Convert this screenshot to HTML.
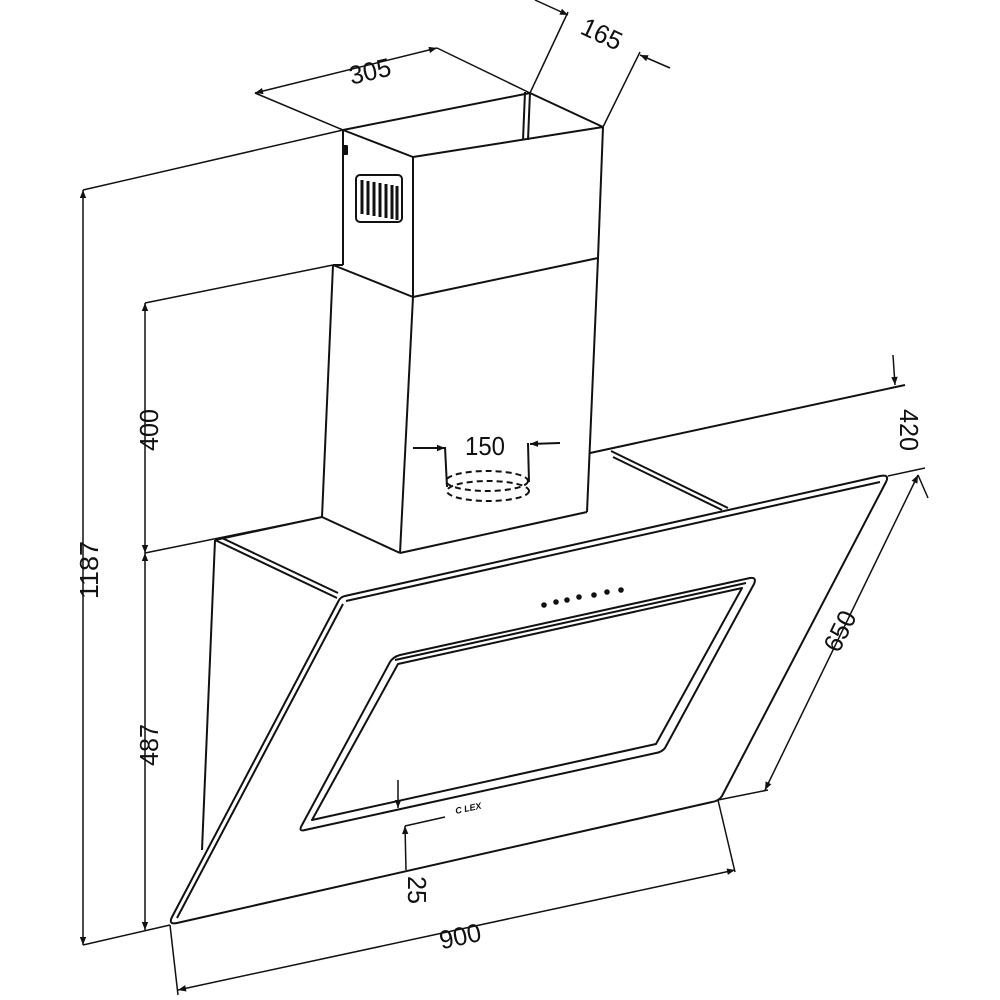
<!DOCTYPE html>
<html><head><meta charset="utf-8"><style>
html,body{margin:0;padding:0;background:#fff}
svg{display:block}
text{font-family:"Liberation Sans",sans-serif;font-size:26px;fill:#111}
</style></head><body>
<svg width="1000" height="1000" viewBox="0 0 1000 1000" xmlns="http://www.w3.org/2000/svg">
<defs>
<marker id="a" viewBox="0 0 10 10" refX="10" refY="5" markerWidth="12" markerHeight="8" orient="auto-start-reverse" markerUnits="userSpaceOnUse"><path d="M0,1 L10,5 L0,9 Z" fill="#111"/></marker>
</defs>
<g stroke="#111" stroke-width="2" fill="none" stroke-linejoin="round">
<!-- chimney upper -->
<polyline points="343,130 413,157 603,127"/>
<polyline points="343,130 530,93"/>
<line x1="530" y1="93" x2="603" y2="127"/>
<line x1="343" y1="130" x2="343" y2="265"/>
<line x1="413" y1="157" x2="413" y2="297"/>
<line x1="603" y1="127" x2="598" y2="258"/>
<line x1="525" y1="92" x2="523" y2="140"/>
<line x1="530" y1="92" x2="528" y2="140"/>
<polyline points="333,265 413,297 598,258"/>
<line x1="333" y1="265" x2="343" y2="265"/>
<!-- vent -->
<rect x="356" y="175" width="46" height="47" rx="4"/>
<g stroke-width="3">
<line x1="362" y1="180" x2="362" y2="214"/><line x1="368" y1="181" x2="368" y2="215"/><line x1="374" y1="182" x2="374" y2="216"/><line x1="380" y1="183" x2="380" y2="217"/><line x1="386" y1="184" x2="386" y2="218"/><line x1="392" y1="185" x2="392" y2="219"/><line x1="397" y1="186" x2="397" y2="220"/>
</g>
<rect x="344" y="146" width="3" height="8" fill="#111"/>
<!-- chimney lower -->
<line x1="333" y1="265" x2="322" y2="517"/>
<line x1="413" y1="297" x2="400" y2="553"/>
<line x1="598" y1="258" x2="587" y2="512"/>
<line x1="400" y1="553" x2="587" y2="512"/>
<!-- hood top -->
<polyline points="215,540 322,517"/>
<line x1="322" y1="517" x2="400" y2="553"/>
<line x1="590" y1="453" x2="905" y2="385"/>
<line x1="215" y1="540" x2="337" y2="598"/>
<line x1="222" y1="538" x2="338" y2="593"/>
<line x1="611" y1="451" x2="728" y2="508"/>
<line x1="613" y1="457" x2="722" y2="510"/>
<!-- side -->
<line x1="215" y1="540" x2="202" y2="850"/>
<!-- glass -->
<path d="M345,596 L880,476 Q890,474 886,482 L722,796 Q719,801 712,802 L177,923 Q168,925 172,917 L338,602 Q340,597 345,596 Z"/>
<path d="M346,601 L880,482 M343,604 L177,918"/>
<!-- window -->
<path d="M400,655 L750,578 Q757,577 754,584 L665,748 Q662,752 656,753 L305,830 Q298,832 302,825 L390,662 Q393,657 400,655 Z"/>
<path d="M398,664 L742,588 L656,744 L312,820 Z"/>
<path d="M395,660 L746,583"/>
<!-- buttons -->
<g fill="#111" stroke="none">
<circle cx="544" cy="605" r="2.8"/><circle cx="556" cy="602" r="2.8"/><circle cx="567" cy="600" r="2.8"/><circle cx="579" cy="597" r="2.8"/><circle cx="594" cy="595" r="2.8"/><circle cx="607" cy="592" r="2.8"/><circle cx="621" cy="590" r="2.8"/>
</g>
<text x="456" y="814" style="font-size:9px;font-weight:bold;font-style:italic" stroke="none" transform="rotate(-12 456 814)">C LEX</text>
<!-- duct -->
<ellipse cx="487" cy="481" rx="41" ry="10" stroke-dasharray="6,4"/>
<ellipse cx="488" cy="491" rx="41" ry="10" stroke-dasharray="6,4"/>
<line x1="445" y1="447" x2="447" y2="487"/>
<line x1="528" y1="443" x2="529" y2="482"/>
<line x1="413" y1="448" x2="445" y2="448" marker-end="url(#a)"/>
<line x1="560" y1="443" x2="530" y2="444" marker-end="url(#a)"/>
<!-- dims -->
<g stroke-width="1.5">
<line x1="83" y1="190" x2="343" y2="130"/>
<line x1="83" y1="945" x2="170" y2="925"/>
<line x1="83" y1="190" x2="83" y2="945" marker-start="url(#a)" marker-end="url(#a)"/>
<line x1="145" y1="303" x2="333" y2="265"/>
<line x1="145" y1="553" x2="322" y2="517"/>
<line x1="145" y1="303" x2="145" y2="553" marker-start="url(#a)" marker-end="url(#a)"/>
<line x1="145" y1="553" x2="145" y2="930" marker-start="url(#a)" marker-end="url(#a)"/>
<line x1="255" y1="93" x2="343" y2="130"/>
<line x1="437" y1="48" x2="530" y2="93"/>
<line x1="255" y1="93" x2="437" y2="48" marker-start="url(#a)" marker-end="url(#a)"/>
<line x1="530" y1="93" x2="568" y2="12"/>
<line x1="603" y1="127" x2="640" y2="52"/>
<line x1="535" y1="0" x2="568" y2="15" marker-end="url(#a)"/>
<line x1="670" y1="68" x2="640" y2="55" marker-end="url(#a)"/>
<line x1="893" y1="355" x2="895" y2="385" marker-end="url(#a)"/>
<line x1="888" y1="476" x2="925" y2="468"/>
<line x1="718" y1="800" x2="768" y2="790"/>
<line x1="918" y1="475" x2="765" y2="790" marker-start="url(#a)" marker-end="url(#a)"/>
<line x1="928" y1="498" x2="918" y2="475"/>
<line x1="170" y1="925" x2="178" y2="995"/>
<line x1="718" y1="800" x2="735" y2="872"/>
<line x1="178" y1="990" x2="735" y2="870" marker-start="url(#a)" marker-end="url(#a)"/>
<line x1="398" y1="780" x2="398" y2="808" marker-end="url(#a)"/>
<line x1="406" y1="870" x2="405" y2="826" marker-end="url(#a)"/>
<line x1="405" y1="826" x2="445" y2="817"/>
</g>
</g>
<g stroke="none">
<text x="98" y="570" transform="rotate(-90 98 570)" text-anchor="middle" textLength="58" lengthAdjust="spacingAndGlyphs">1187</text>
<text x="158" y="430" transform="rotate(-90 158 430)" text-anchor="middle" textLength="42" lengthAdjust="spacingAndGlyphs">400</text>
<text x="158" y="745" transform="rotate(-90 158 745)" text-anchor="middle" textLength="42" lengthAdjust="spacingAndGlyphs">487</text>
<text x="372" y="80" transform="rotate(-13 372 80)" text-anchor="middle" textLength="42" lengthAdjust="spacingAndGlyphs">305</text>
<text x="598" y="42" transform="rotate(25 598 42)" text-anchor="middle" textLength="42" lengthAdjust="spacingAndGlyphs">165</text>
<text x="485" y="455" text-anchor="middle" textLength="40" lengthAdjust="spacingAndGlyphs">150</text>
<text x="900" y="430" transform="rotate(90 900 430)" text-anchor="middle" textLength="42" lengthAdjust="spacingAndGlyphs">420</text>
<text x="848" y="635" transform="rotate(-64 848 635)" text-anchor="middle" textLength="42" lengthAdjust="spacingAndGlyphs">650</text>
<text x="462" y="945" transform="rotate(-12 462 945)" text-anchor="middle" textLength="42" lengthAdjust="spacingAndGlyphs">900</text>
<text x="408" y="890" transform="rotate(90 408 890)" text-anchor="middle" textLength="28" lengthAdjust="spacingAndGlyphs">25</text>
</g>
</svg>
</body></html>
